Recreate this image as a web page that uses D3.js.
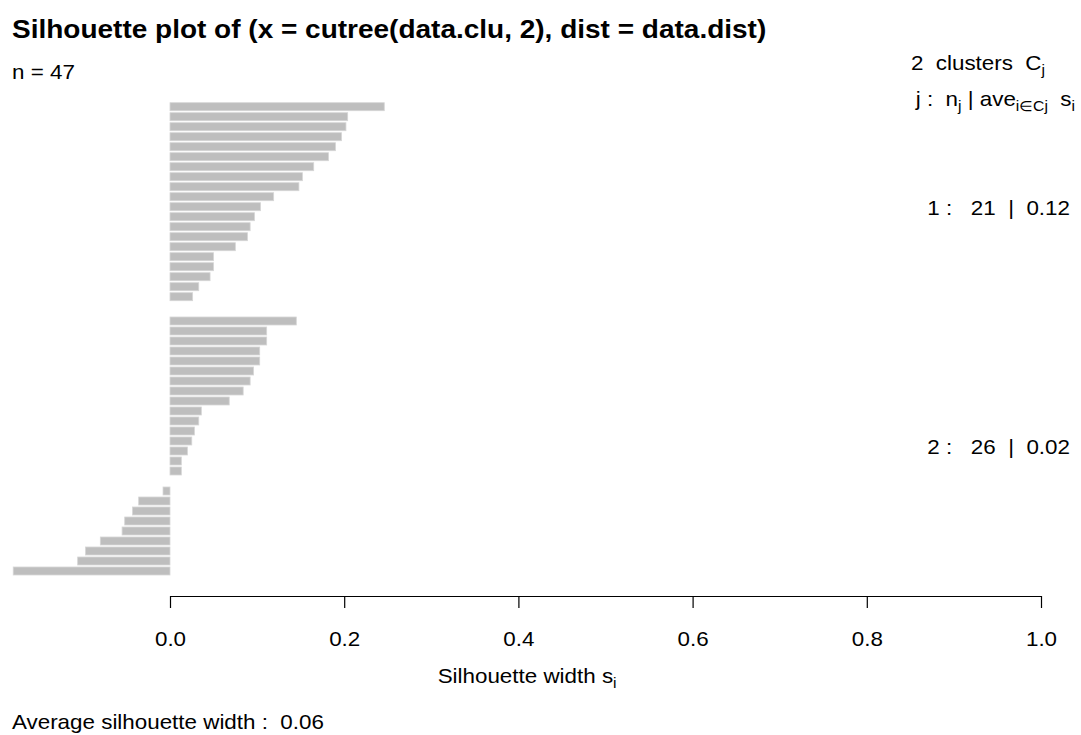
<!DOCTYPE html>
<html>
<head>
<meta charset="utf-8">
<script src="https://cdn.jsdelivr.net/npm/d3@7"></script>
<style>
  html, body { margin: 0; padding: 0; background: #fff; }
  svg { display: block; font-family: "Liberation Sans", Arial, sans-serif; }
  text { white-space: pre; }
</style>
</head>
<body>
<svg id="chart" width="1081" height="735"></svg>
<script>
// Silhouette widths per cluster, sorted decreasing within each cluster
const clusterIds = [1, 2];
const silCluster1 = [0.246, 0.204, 0.202, 0.197, 0.190, 0.182, 0.165, 0.152, 0.148, 0.119,
                     0.104, 0.097, 0.092, 0.089, 0.075, 0.050, 0.050, 0.046, 0.033, 0.026, 0.000];
const silCluster2 = [0.145, 0.111, 0.111, 0.103, 0.103, 0.096, 0.092, 0.084, 0.068, 0.036,
                     0.033, 0.028, 0.025, 0.020, 0.013, 0.013, 0.000, -0.008, -0.036, -0.043,
                     -0.052, -0.055, -0.080, -0.097, -0.106, -0.180];
const xTicks = [0, 0.2, 0.4, 0.6, 0.8, 1.0];

const titleText = "Silhouette plot of (x = cutree(data.clu, 2), dist = data.dist)";
const xLabelText = "Silhouette width s";

const svg = d3.select("#chart");
const SX = 1.12;            // horizontal stretch of the lettering
const FONT = 20;

const clusters = [silCluster1, silCluster2];
const allSil = clusters.flat();
const n = allSil.length;

// slot positions: bars stacked top to bottom, small extra gap between clusters
const clusterGap = 0.43;
const bars = [];
let slot = 0;
clusters.forEach((vals, ci) => {
  if (ci > 0) slot += clusterGap;
  vals.forEach(v => { bars.push({ cluster: clusterIds[ci], value: v, slot: slot }); slot += 1; });
});
const lastSlot = bars[bars.length - 1].slot;

const x = d3.scaleLinear().domain([0, 1]).range([170, 1041]);
const y = d3.scaleLinear().domain([0, lastSlot]).range([106.7, 571]);
const barH = 8;

svg.append("g").selectAll("rect")
  .data(bars)
  .join("rect")
  .attr("x", d => x(Math.min(0, d.value)))
  .attr("y", d => y(d.slot) - barH / 2)
  .attr("width", d => Math.abs(x(d.value) - x(0)))
  .attr("height", barH)
  .attr("fill", "#bebebe")
  .attr("stroke", "#d6d6d6")
  .attr("stroke-width", 0.8);

// helper: stretched text anchored at (px, py)
function label(px, py, size, anchor, weight) {
  return svg.append("text")
    .attr("transform", `translate(${px},${py}) scale(${SX},1)`)
    .attr("font-size", size)
    .attr("font-weight", weight || "normal")
    .attr("text-anchor", anchor || "start")
    .attr("fill", "#000");
}

// x axis
const axisY = 596;
const axis = svg.append("g")
  .attr("transform", `translate(0,${axisY})`)
  .call(d3.axisBottom(x).tickValues(xTicks).tickFormat(d3.format(".1f")).tickSize(12).tickSizeOuter(0));
axis.select(".domain").attr("stroke", "#000").attr("stroke-width", 1.2);
axis.selectAll(".tick line").attr("stroke", "#000").attr("stroke-width", 1.2);
axis.selectAll(".tick text")
  .attr("y", 50).attr("dy", 0)
  .attr("font-size", FONT)
  .attr("font-family", "Liberation Sans, Arial, sans-serif")
  .attr("fill", "#000")
  .attr("transform", `scale(${SX},1)`);

// axis title with subscript, centred on the full value range
const xl = label((x(d3.min(allSil)) + x(1)) / 2, 683, FONT, "middle");
xl.append("tspan").text(xLabelText);
xl.append("tspan").attr("font-size", 14).attr("dy", 5).text("i");

// main title and n
label(12, 38, 25, "start", "bold").text(titleText);
label(12, 79, FONT, "start").text("n = " + n);

// legend header
const h1 = label(1045, 70, FONT, "end");
h1.append("tspan").text(clusters.length + "  clusters  C");
h1.append("tspan").attr("font-size", 14).attr("dy", 5).text("j");

const h2 = label(1075, 106, FONT, "end");
h2.append("tspan").text("j :  n");
h2.append("tspan").attr("font-size", 14).attr("dy", 5).text("j");
h2.append("tspan").attr("dy", -5).text(" | ave");
h2.append("tspan").attr("font-size", 14).attr("dy", 5).text("i\u2208Cj");
h2.append("tspan").attr("dy", -5).text("  s");
h2.append("tspan").attr("font-size", 14).attr("dy", 5).text("i");

// per-cluster summaries, centred on each cluster's block of bars
clusters.forEach((vals, ci) => {
  const cb = bars.filter(b => b.cluster === clusterIds[ci]);
  const yc = (y(cb[0].slot) + y(cb[cb.length - 1].slot)) / 2;
  const avg = d3.mean(vals);
  label(1070, yc + 8, FONT, "end")
    .text(`${clusterIds[ci]} :   ${vals.length}  |  ${avg.toFixed(2)}`);
});

// overall average
label(12, 729, FONT, "start")
  .text("Average silhouette width :  " + d3.mean(allSil).toFixed(2));
</script>
</body>
</html>
